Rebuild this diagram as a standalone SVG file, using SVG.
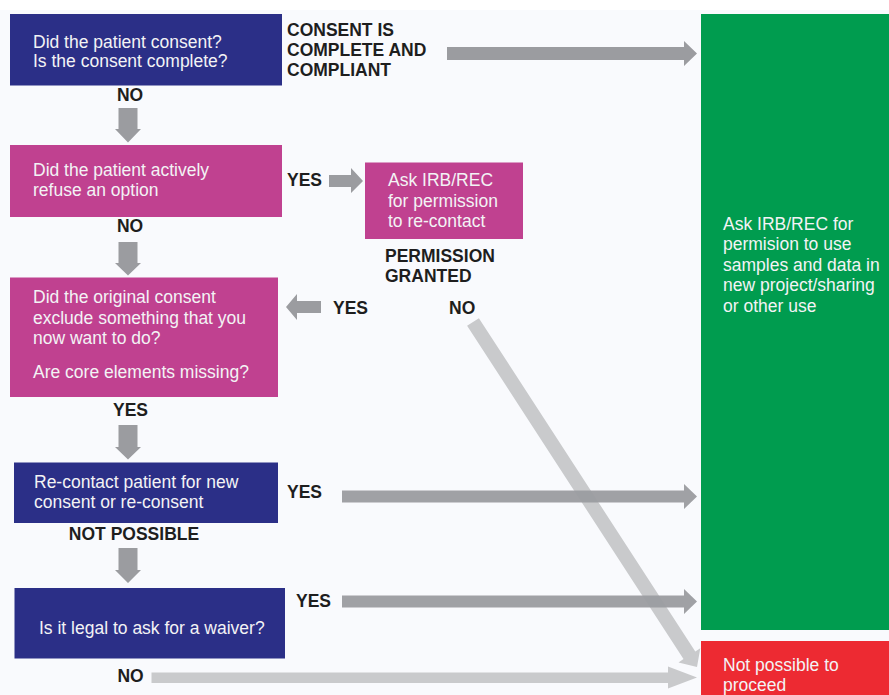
<svg xmlns="http://www.w3.org/2000/svg" width="889" height="695" viewBox="0 0 889 695">
<style>
text{font-family:"Liberation Sans",Arial,sans-serif;font-size:17.5px}
.w{fill:#f3f3f5}
.b{fill:#1e1e1e;font-weight:bold}
.m{text-anchor:middle}
.dk{fill:#9b9ca0}
.lt{fill:#c9cacc}
</style>
<rect width="889" height="695" fill="#ffffff"/>
<rect x="0" y="10" width="889" height="685" fill="#f9fafd"/>

<g id="connectors">
  <polygon class="dk" points="447,47 684,47 684,41 697,53.5 684,66 684,60 447,60"/>
  <polygon class="dk" points="118.5,108 137.5,108 137.5,129 141,129 128,142.5 115,129 118.5,129"/>
  <polygon class="dk" points="329,175 351,175 351,168 363,181 351,193 351,187 329,187"/>
  <polygon class="dk" points="118.5,242 137.5,242 137.5,263 141,263 128,275.5 115,263 118.5,263"/>
  <polygon class="dk" points="321,301 297,301 297,294 286,307 297,320 297,313 321,313"/>
  <polygon class="dk" points="118.5,425 137.5,425 137.5,447 141,447 128,459.5 115,447 118.5,447"/>
  <polygon class="dk" points="118.5,548 137.5,548 137.5,570 141,570 128,583 115,570 118.5,570"/>
  <polygon class="lt" points="151.5,672.5 668,672.5 668,666.5 697,677.5 668,688.5 668,683 151.5,683"/>
  <polygon class="lt" points="467.1,325.8 478.9,318.2 695.3,651.5 700.3,648.2 697,667 678.5,662.4 683.5,659.1"/>
  <polygon class="dk" points="342,490.5 684,490.5 684,484 697,496.5 684,509 684,502.5 342,502.5" opacity="0.95"/>
  <polygon class="dk" points="342,595.5 684,595.5 684,589 697,601.5 684,614 684,607.5 342,607.5" opacity="0.95"/>
</g>

<g id="node-consent">
  <rect x="10" y="14" width="272" height="71.5" fill="#2b2f87"/>
  <text class="w" x="33" y="47.5">Did the patient consent?</text>
  <text class="w" x="33" y="67">Is the consent complete?</text>
</g>
<g id="label-compliant">
  <text class="b" x="287" y="35.5">CONSENT IS</text>
  <text class="b" x="287" y="55.5">COMPLETE AND</text>
  <text class="b" x="287" y="75.5">COMPLIANT</text>
</g>
<text class="b m" x="130" y="100.5">NO</text>

<g id="node-refuse">
  <rect x="10" y="145" width="272" height="72" fill="#c04190"/>
  <text class="w" x="33" y="176">Did the patient actively</text>
  <text class="w" x="33" y="196">refuse an option</text>
</g>
<text class="b" x="287" y="186">YES</text>
<text class="b m" x="130" y="232">NO</text>

<g id="node-irb-recontact">
  <rect x="365" y="162.5" width="158" height="76.5" fill="#c04190"/>
  <text class="w" x="388" y="186">Ask IRB/REC</text>
  <text class="w" x="388" y="206.5">for permission</text>
  <text class="w" x="388" y="226.5">to re-contact</text>
</g>
<text class="b" x="385" y="262">PERMISSION</text>
<text class="b" x="385" y="282">GRANTED</text>
<text class="b" x="333" y="313.5">YES</text>
<text class="b" x="449" y="313.5">NO</text>

<g id="node-original">
  <rect x="10" y="277.5" width="268" height="119.5" fill="#c04190"/>
  <text class="w" x="33" y="303">Did the original consent</text>
  <text class="w" x="33" y="323.5">exclude something that you</text>
  <text class="w" x="33" y="343.5">now want to do?</text>
  <text class="w" x="33" y="378">Are core elements missing?</text>
</g>
<text class="b m" x="130.5" y="416">YES</text>

<g id="node-recontact">
  <rect x="14" y="462.5" width="264" height="60.5" fill="#2b2f87"/>
  <text class="w" x="34" y="487.5">Re-contact patient for new</text>
  <text class="w" x="34" y="507.5">consent or re-consent</text>
</g>
<text class="b" x="287" y="497.5">YES</text>
<text class="b m" x="134" y="539.5">NOT POSSIBLE</text>

<g id="node-waiver">
  <rect x="14.5" y="588" width="270.5" height="70.5" fill="#2b2f87"/>
  <text class="w" x="39" y="633.5">Is it legal to ask for a waiver?</text>
</g>
<text class="b" x="296" y="607">YES</text>
<text class="b m" x="130.5" y="681.5">NO</text>

<g id="node-ask-irb">
  <rect x="701" y="14" width="188" height="616" fill="#009c4f"/>
  <text class="w" x="723" y="229.5">Ask IRB/REC for</text>
  <text class="w" x="723" y="250">permision to use</text>
  <text class="w" x="723" y="270.5">samples and data in</text>
  <text class="w" x="723" y="291">new project/sharing</text>
  <text class="w" x="723" y="311.5">or other use</text>
</g>

<g id="node-not-possible">
  <rect x="701" y="641" width="188" height="54" fill="#ed2a32"/>
  <text class="w" x="723" y="670.5">Not possible to</text>
  <text class="w" x="723" y="690.5">proceed</text>
</g>
</svg>
